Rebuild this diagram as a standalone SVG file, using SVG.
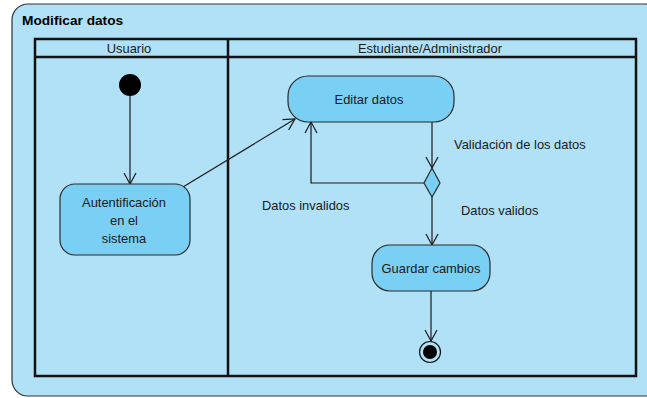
<svg xmlns="http://www.w3.org/2000/svg" width="647" height="398" viewBox="0 0 647 398">
<defs>
<style>
.lbl{font-family:"Liberation Sans",Arial,sans-serif;font-size:12.9px;fill:#1a1a1a}
.node{fill:#79cff4;stroke:#2a2a2a;stroke-width:1.2}
.edge{fill:none;stroke:#1a1a1a;stroke-width:1.2}
.lane{fill:none;stroke:#111;stroke-width:2.5}
</style>
<marker id="arr" markerWidth="14" markerHeight="14" refX="12" refY="7" orient="auto" markerUnits="userSpaceOnUse">
<path d="M1,1 L12,7 L1,13" fill="none" stroke="#1a1a1a" stroke-width="1.2"/>
</marker>
</defs>
<rect width="647" height="398" fill="#ffffff"/>
<g id="frame">
<rect x="12" y="4" width="650" height="392" rx="16" fill="#b0e1f7" stroke="#333" stroke-width="1.2"/>
<text x="22" y="25" font-family="Liberation Sans,Arial,sans-serif" font-size="13.7" font-weight="bold" fill="#000">Modificar datos</text>
</g>
<g id="lanes">
<rect x="35" y="39" width="601" height="337" class="lane"/>
<line x1="35" y1="57" x2="636" y2="57" class="lane"/>
<line x1="228" y1="39" x2="228" y2="376" class="lane"/>
<text x="129" y="52.5" text-anchor="middle" class="lbl">Usuario</text>
<text x="430" y="52.5" text-anchor="middle" class="lbl">Estudiante/Administrador</text>
</g>
<g id="connectors">
<path d="M130,96 V184" class="edge" marker-end="url(#arr)"/>
<path d="M183,187 L295,119" class="edge" marker-end="url(#arr)"/>
<path d="M432,122 V168" class="edge" marker-end="url(#arr)"/>
<path d="M424,183 H311 V122" class="edge" marker-end="url(#arr)"/>
<path d="M432,197 V245" class="edge" marker-end="url(#arr)"/>
<path d="M431,291 V341" class="edge" marker-end="url(#arr)"/>
<text x="454" y="148.5" class="lbl">Validación de los datos</text>
<text x="262" y="209.5" class="lbl">Datos invalidos</text>
<text x="461" y="214.5" class="lbl">Datos validos</text>
</g>
<g id="initial">
<circle cx="130" cy="85" r="11" fill="#000"/>
</g>
<g id="autentificacion">
<rect x="60" y="184" width="130" height="71" rx="15" class="node"/>
<text x="124" y="206.5" text-anchor="middle" class="lbl">Autentificación</text>
<text x="124" y="224.5" text-anchor="middle" class="lbl">en el</text>
<text x="124" y="242.5" text-anchor="middle" class="lbl">sistema</text>
</g>
<g id="editar">
<rect x="288" y="76" width="166" height="46" rx="20" class="node"/>
<text x="369" y="103.5" text-anchor="middle" class="lbl">Editar datos</text>
</g>
<g id="decision">
<polygon points="432,168 440,183 432,197 424,183" class="node"/>
</g>
<g id="guardar">
<rect x="372" y="245" width="118" height="46" rx="18" class="node"/>
<text x="431" y="272.5" text-anchor="middle" class="lbl">Guardar cambios</text>
</g>
<g id="final">
<circle cx="430" cy="352" r="10.5" fill="none" stroke="#111" stroke-width="1.2"/>
<circle cx="430" cy="352" r="7" fill="#000"/>
</g>
</svg>
